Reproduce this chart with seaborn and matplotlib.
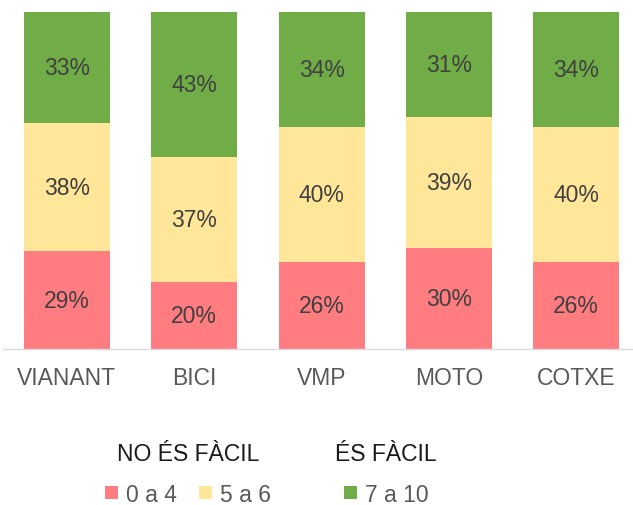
import matplotlib
matplotlib.use("Agg")
import matplotlib.pyplot as plt
from matplotlib.patches import Patch
import numpy as np
import pandas as pd
import seaborn as sns

# data (percent)
categories = ["VIANANT", "BICI", "VMP", "MOTO", "COTXE"]
pct_0_4 = [29, 20, 26, 30, 26]
pct_5_6 = [38, 37, 40, 39, 40]
pct_7_10 = [33, 43, 34, 31, 34]
series_labels = ["0 a 4", "5 a 6", "7 a 10"]
group_titles = ["NO ÉS FÀCIL", "ÉS FÀCIL"]

colors = ["#FF7C80", "#FFE699", "#70AD47"]

sns.set_theme(style="white")
plt.rcParams["font.family"] = ["Liberation Sans", "DejaVu Sans"]

df = pd.DataFrame({"cat": categories, "a": pct_0_4, "b": pct_5_6, "c": pct_7_10})
df["top_b"] = df["a"] + df["b"]
df["top_c"] = df["top_b"] + df["c"]

fig = plt.figure(figsize=(6.33, 5.06), dpi=100)
ax = fig.add_axes([0.005, 0.308, 1.006, 0.666])

# stacked bars drawn as layered cumulative totals
for col, color in zip(["top_c", "top_b", "a"], colors[::-1]):
    sns.barplot(data=df, x="cat", y=col, color=color, width=0.675,
                saturation=1, linewidth=0, ax=ax)

# value labels in the middle of each segment
for i, row in df.iterrows():
    lows = [0, row["a"], row["top_b"]]
    vals = [row["a"], row["b"], row["c"]]
    for lo, v in zip(lows, vals):
        ax.text(i, lo + v / 2, f"{v}%", ha="center", va="center",
                fontsize=16.5, color="#404040")

ax.set_ylim(0, 100)
ax.set_xlim(-0.5, len(categories) - 0.5)
ax.set_xlabel("")
ax.set_ylabel("")
ax.set_yticks([])
ax.tick_params(axis="x", length=0, labelsize=16.5, labelcolor="#595959", pad=12)
for s in ["top", "right", "left"]:
    ax.spines[s].set_visible(False)
ax.spines["bottom"].set_color("#D9D9D9")
ax.spines["bottom"].set_linewidth(1)

h = [Patch(facecolor=c, edgecolor="none") for c in colors]
leg_kw = dict(loc="center", frameon=False, fontsize=16.5, title_fontsize=16.5,
              handlelength=0.55, handleheight=0.55, handletextpad=0.35,
              labelcolor="#595959", borderpad=0.2)
leg1 = fig.legend(h[:2], series_labels[:2], title=group_titles[0], ncol=2,
                  bbox_to_anchor=(0.297, 0.062), columnspacing=1.0, **leg_kw)
leg2 = fig.legend(h[2:], series_labels[2:], title=group_titles[1],
                  bbox_to_anchor=(0.61, 0.062), **leg_kw)
for lg in (leg1, leg2):
    lg.get_title().set_color("#1a1a1a")
    lg._legend_box.sep = 13

fig.savefig("out.png", dpi=100)
